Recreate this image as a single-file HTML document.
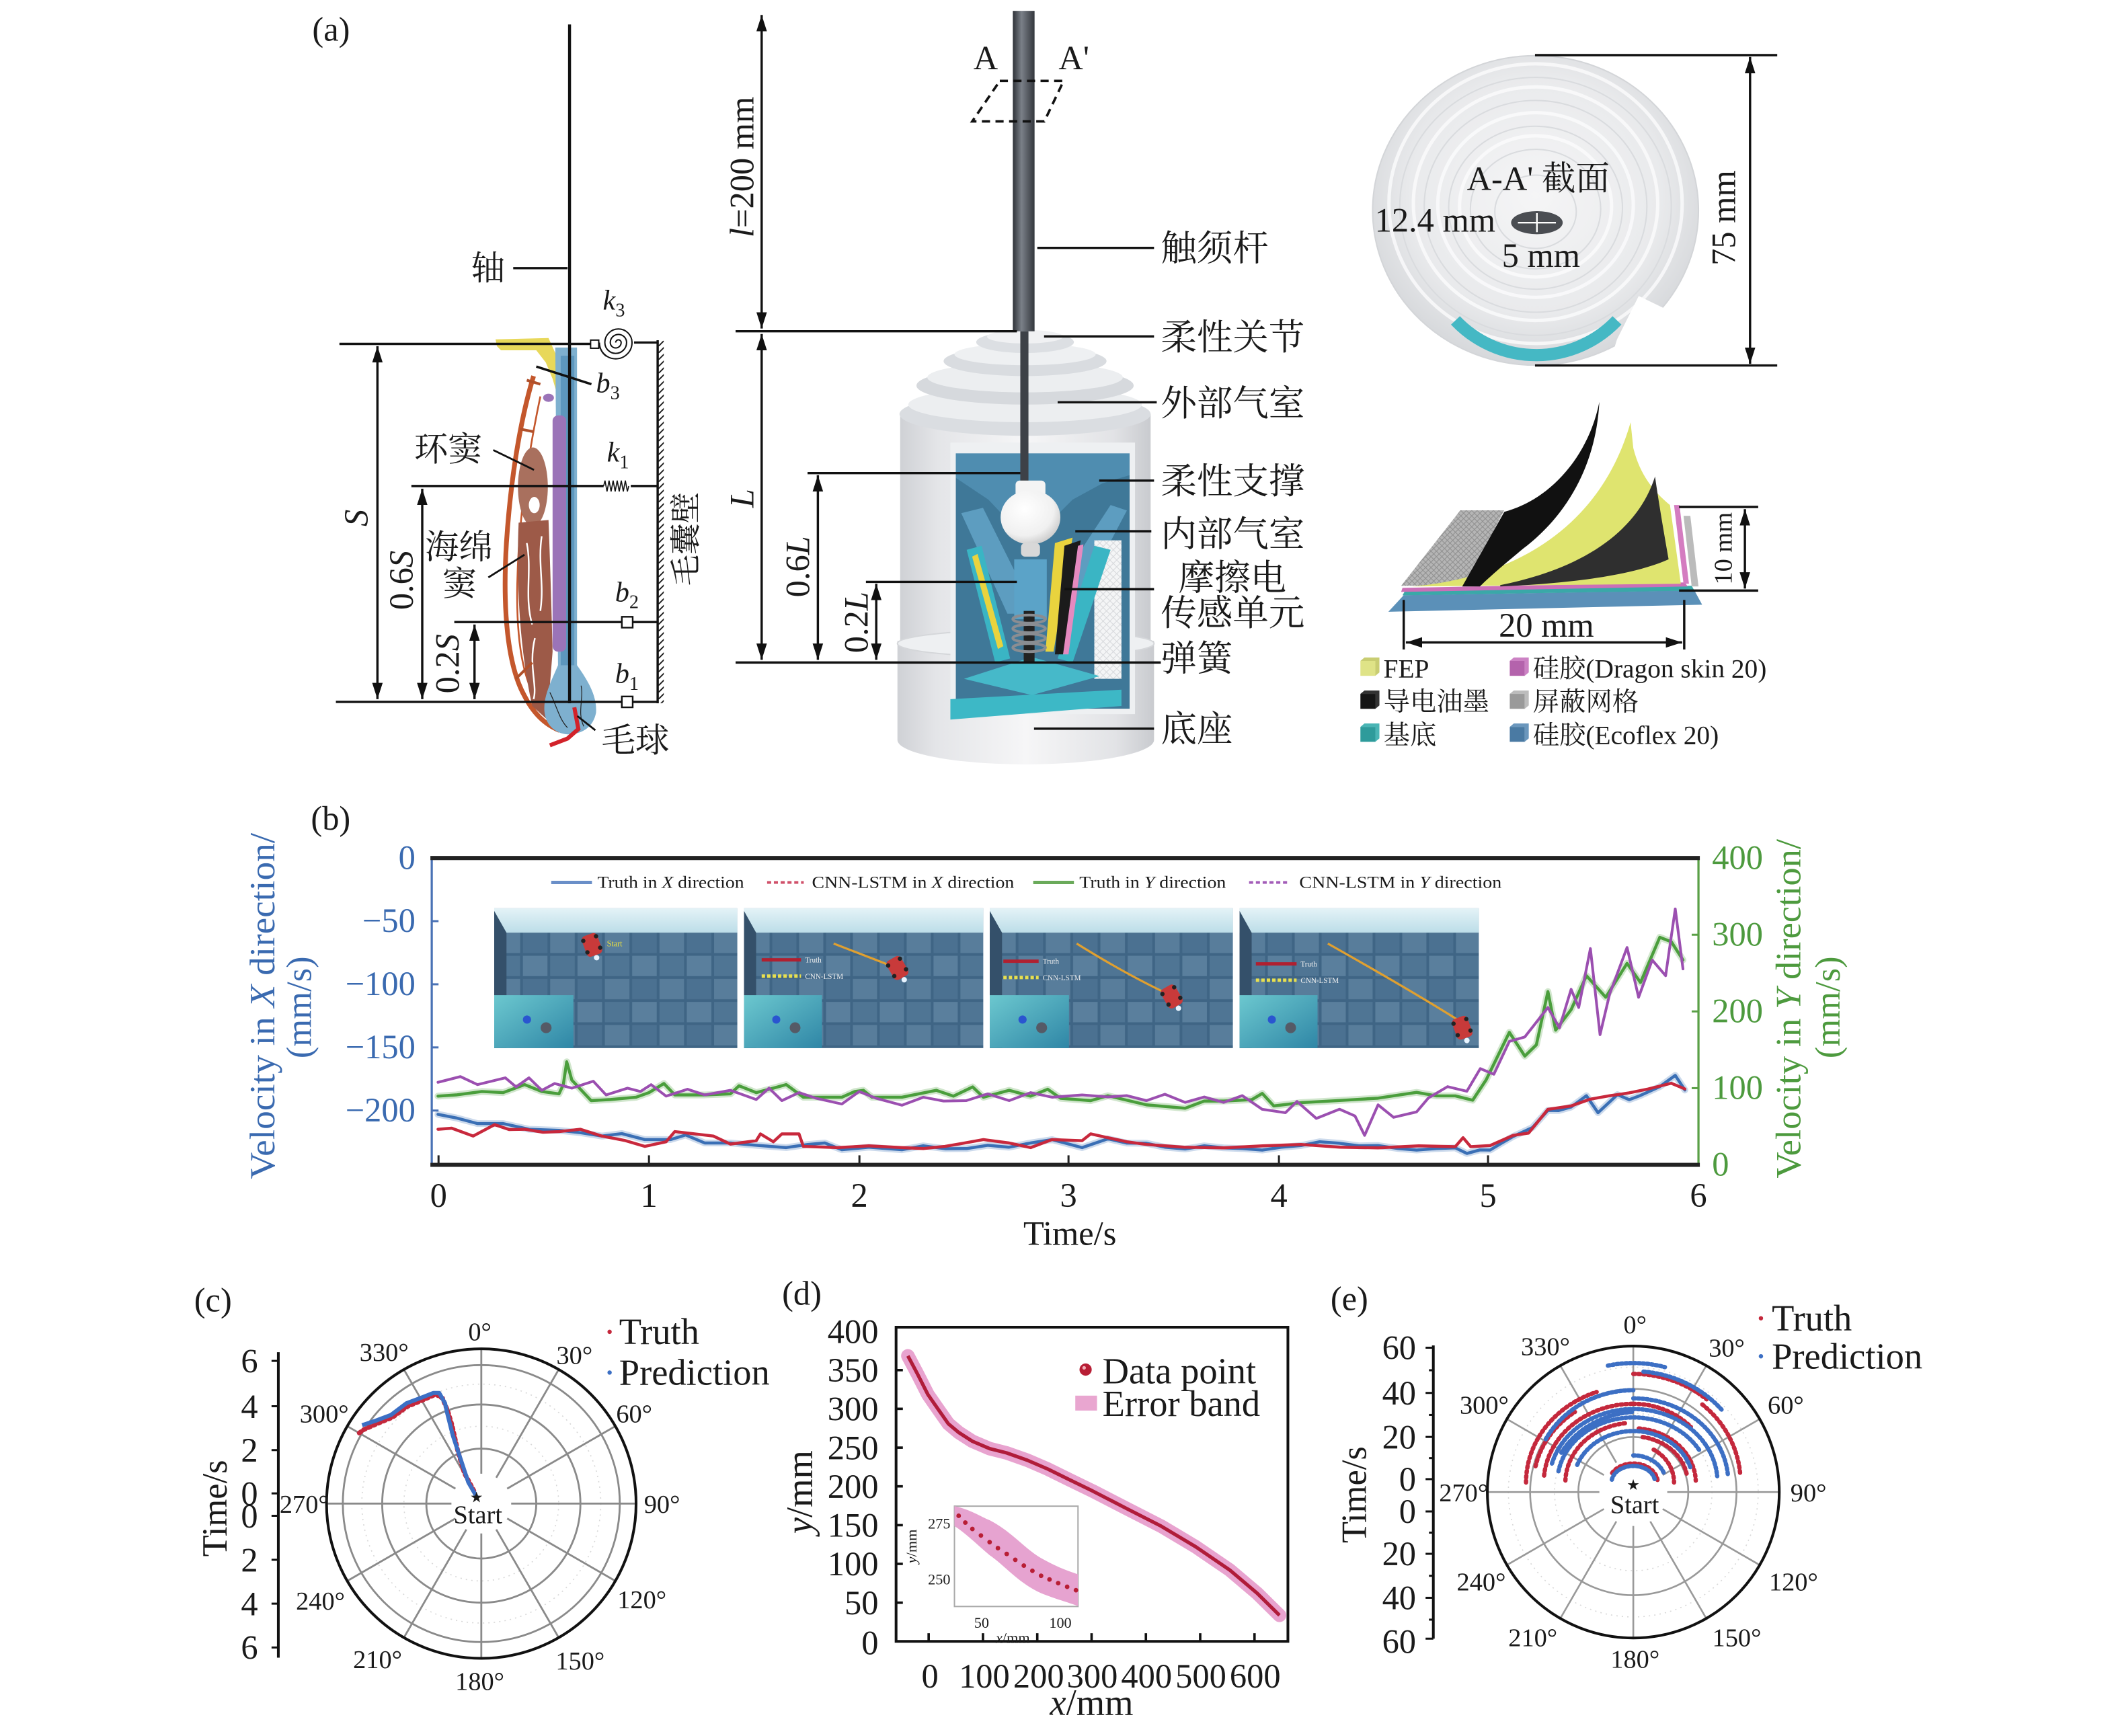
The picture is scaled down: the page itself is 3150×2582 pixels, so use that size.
<!DOCTYPE html>
<html><head><meta charset="utf-8">
<style>
html,body{margin:0;padding:0;background:#fff;width:3150px;height:2582px;overflow:hidden;}
svg{display:block;}
text{font-family:"Liberation Serif","Noto Serif CJK SC",serif;fill:#1a1a1a;}
</style></head><body>
<svg xmlns="http://www.w3.org/2000/svg" width="3150" height="2582" viewBox="0 0 1560 1278.7" preserveAspectRatio="none">
<defs>
<marker id="ah" viewBox="0 0 14 9" refX="14" refY="4.5" markerWidth="12" markerHeight="8" orient="auto-start-reverse" markerUnits="userSpaceOnUse"><path d="M0,0L14,4.5L0,9Z" fill="#111"/></marker>
<linearGradient id="rodG" x1="0" x2="1" y1="0" y2="0"><stop offset="0" stop-color="#2e3238"/><stop offset="0.4" stop-color="#7b8088"/><stop offset="1" stop-color="#33373d"/></linearGradient>
<linearGradient id="cylG" x1="0" x2="1" y1="0" y2="0"><stop offset="0" stop-color="#cfd1d5"/><stop offset="0.15" stop-color="#e4e5e8"/><stop offset="0.5" stop-color="#f6f6f7"/><stop offset="0.85" stop-color="#e2e3e6"/><stop offset="1" stop-color="#c9cbcf"/></linearGradient>
<radialGradient id="diskG" cx="0.5" cy="0.45" r="0.55"><stop offset="0" stop-color="#f5f5f6"/><stop offset="0.7" stop-color="#e9eaec"/><stop offset="1" stop-color="#d6d8db"/></radialGradient>
<radialGradient id="ballG" cx="0.4" cy="0.35" r="0.7"><stop offset="0" stop-color="#ffffff"/><stop offset="0.7" stop-color="#f0f0f0"/><stop offset="1" stop-color="#c8c8c8"/></radialGradient>
<linearGradient id="tealG" x1="0" x2="1" y1="0" y2="1"><stop offset="0" stop-color="#6cc8cf"/><stop offset="1" stop-color="#2f86a6"/></linearGradient>
<linearGradient id="skyG" x1="0" x2="0" y1="0" y2="1"><stop offset="0" stop-color="#e4f3f7"/><stop offset="1" stop-color="#bcdde8"/></linearGradient>
<pattern id="hatch" width="5" height="5" patternUnits="userSpaceOnUse"><path d="M0,5L5,0" stroke="#111" stroke-width="0.9"/></pattern>
<pattern id="mesh" width="4" height="4" patternUnits="userSpaceOnUse"><rect width="4" height="4" fill="#b5b5b5"/><path d="M0,0L4,4M4,0L0,4" stroke="#8e8e8e" stroke-width="0.5"/></pattern>
<pattern id="wmesh" width="5" height="5" patternUnits="userSpaceOnUse"><rect width="5" height="5" fill="#f4f5f6"/><path d="M0,0L5,5M5,0L0,5" stroke="#d6d8db" stroke-width="0.5"/></pattern>
<pattern id="tiles" width="40" height="34" patternUnits="userSpaceOnUse"><rect width="40" height="34" fill="#3f6585"/><rect x="1" y="1" width="18" height="15" fill="#4f7594"/><rect x="21" y="1" width="18" height="15" fill="#5a7f9d"/><rect x="1" y="18" width="18" height="15" fill="#587d9b"/><rect x="21" y="18" width="18" height="15" fill="#4b7191"/></pattern>
<g id="insetBase">
<rect width="178" height="103" fill="url(#tiles)"/>
<rect width="178" height="18" fill="url(#skyG)"/>
<polygon points="0,2 9,18 9,103 0,103" fill="#34506a"/>
<rect x="0" y="64" width="58" height="39" fill="url(#tealG)"/>
<circle cx="24" cy="82" r="3" fill="#2a55d0"/>
<circle cx="38" cy="88" r="4" fill="#555a66"/>
</g>
<g id="robot"><rect x="-6" y="-8" width="12" height="16" rx="3" fill="#c83a3a"/><circle cx="-5" cy="-5" r="1.6" fill="#222"/><circle cx="5" cy="-5" r="1.6" fill="#222"/><circle cx="-5" cy="4" r="1.6" fill="#222"/><circle cx="5" cy="4" r="1.6" fill="#222"/><circle cx="0" cy="10" r="2" fill="#e8f4ff"/></g>
</defs>

<!-- ================= PANEL (a) ================= -->
<text x="230" y="30" font-size="25">(a)</text>

<!-- follicle drawing -->
<path d="M393,277 C386,300 377,340 373,400 C370,450 374,490 386,512 C393,526 402,534 412,538" stroke="#c4572c" stroke-width="3.5" fill="none"/>
<path d="M398,292 C390,330 382,380 381,430 C380,480 387,505 400,525" stroke="#c4572c" stroke-width="1.3" fill="none"/>
<ellipse cx="392.5" cy="358.6" rx="11" ry="29" fill="#a9705e"/>
<ellipse cx="393.5" cy="372" rx="4" ry="6" fill="#fff"/>
<path d="M382,385 C380,430 383,480 392,520 L403,530 L407,480 C406,440 405,410 404,383 Z" fill="#9d5a48"/>
<path d="M388,400 C392,420 386,440 392,460 M394,470 C389,490 396,505 393,515 M399,395 C396,415 401,430 398,450" stroke="#fff" stroke-width="1.2" fill="none"/>
<path d="M366,255 L365,250 L404,249 L409,260 L415,263 L422,262 L423,267 L418,307 L410,307 L412,296 L407,279 L402,267 L395,258 L369,258 Z" fill="#e8d85a"/>
<path d="M409,256 L425,256 L425,490 C432,500 440,512 439,525 C437,535 430,540 420,541 C410,541 402,535 401,524 C400,512 407,500 411,490 Z" fill="#7eb0cf"/>
<rect x="413" y="262" width="10" height="228" fill="#5d97bd"/>
<rect x="407" y="306" width="10" height="174" rx="4" fill="#9b74b8"/>
<ellipse cx="404" cy="293" rx="4" ry="3" fill="#9b74b8"/>
<path d="M423,521 L426,537 L418,544 L405,549" stroke="#d2222a" stroke-width="3" fill="none"/>
<path d="M388,280 L398,283 M383,316 L393,318 M380,500 L392,488" stroke="#b0502a" stroke-width="2" fill="none"/>
<path d="M405,510 C410,520 412,530 418,536 M428,505 C430,515 425,525 430,535" stroke="#222" stroke-width="0.6" fill="none"/>

<!-- left schematic lines -->
<g stroke="#111" stroke-width="1.7" fill="none">
<line x1="419.5" y1="18" x2="419.5" y2="518" stroke-width="2.2"/>
<line x1="378" y1="197.5" x2="418" y2="197.5"/>
<line x1="250" y1="253.3" x2="435" y2="253.3"/>
<line x1="467" y1="252.3" x2="484.4" y2="252.3"/>
<line x1="484.4" y1="250.6" x2="484.4" y2="518"/>
<line x1="303" y1="358" x2="444.6" y2="358"/>
<line x1="464.6" y1="358" x2="484.4" y2="358"/>
<line x1="334.6" y1="458.2" x2="458" y2="458.2"/>
<line x1="466" y1="458.2" x2="484.4" y2="458.2"/>
<line x1="247.4" y1="517" x2="458" y2="517"/>
<line x1="466" y1="517" x2="484.4" y2="517"/>
<line x1="395" y1="270" x2="435.6" y2="283"/>
<line x1="278" y1="255" x2="278" y2="515" marker-start="url(#ah)" marker-end="url(#ah)"/>
<line x1="311" y1="360" x2="311" y2="515" marker-start="url(#ah)" marker-end="url(#ah)"/>
<line x1="349.5" y1="460" x2="349.5" y2="515" marker-start="url(#ah)" marker-end="url(#ah)"/>
<line x1="363.3" y1="331.5" x2="393.3" y2="346.1" stroke-width="1.4"/>
<line x1="359.7" y1="425.3" x2="386.3" y2="408.6" stroke-width="1.4"/>
<line x1="425.2" y1="527.4" x2="438.5" y2="537.9" stroke-width="1.4"/>
<path d="M453.5,252.3 a2,2 0 0 1 4,0 a4,4 0 0 1 -8,0 a6,6 0 0 1 12,0 a8,8 0 0 1 -16,0 a10,10 0 0 1 20,0 a12,12 0 0 1 -24,0 a12,12 0 0 0 5,10" stroke-width="1"/>
<path d="M444.6,358 l1,-4 l1.5,8 l1.5,-8 l1.5,8 l1.5,-8 l1.5,8 l1.5,-8 l1.5,8 l1.5,-8 l1.5,8 l1.5,-8 l1.5,8 l1,-4" stroke-width="0.8"/>
</g>
<rect x="484.4" y="251" width="4.5" height="267" fill="url(#hatch)"/>
<rect x="435" y="250.5" width="6" height="6" fill="#fff" stroke="#111" stroke-width="1"/>
<rect x="458" y="454.3" width="8" height="8" fill="#fff" stroke="#111" stroke-width="1.2"/>
<rect x="458" y="513" width="8" height="8" fill="#fff" stroke="#111" stroke-width="1.2"/>

<text x="347" y="206" font-size="25">轴</text>
<text x="444" y="228" font-size="21" font-style="italic">k<tspan font-size="14" font-style="normal" dy="5">3</tspan></text>
<text x="439" y="289" font-size="21" font-style="italic">b<tspan font-size="14" font-style="normal" dy="5">3</tspan></text>
<text x="447" y="340" font-size="21" font-style="italic">k<tspan font-size="14" font-style="normal" dy="5">1</tspan></text>
<text x="453" y="443" font-size="21" font-style="italic">b<tspan font-size="14" font-style="normal" dy="5">2</tspan></text>
<text x="453" y="503" font-size="21" font-style="italic">b<tspan font-size="14" font-style="normal" dy="5">1</tspan></text>
<text x="305" y="339.5" font-size="25">环窦</text>
<text x="313" y="411.5" font-size="25">海绵</text>
<text x="326" y="438.5" font-size="25">窦</text>
<text x="443" y="554" font-size="25">毛球</text>
<text transform="translate(513,397) rotate(-90)" text-anchor="middle" font-size="23">毛囊壁</text>
<text transform="translate(271,381.5) rotate(-90)" text-anchor="middle" font-size="25" font-style="italic">S</text>
<text transform="translate(304,427.4) rotate(-90)" text-anchor="middle" font-size="25">0.6<tspan font-style="italic">S</tspan></text>
<text transform="translate(338,488.9) rotate(-90)" text-anchor="middle" font-size="25">0.2<tspan font-style="italic">S</tspan></text>

<!-- device -->
<path d="M661,472 L850,472 L850,545 A94.5,18 0 0 1 661,545 Z" fill="url(#cylG)"/>
<rect x="663" y="305" width="184.5" height="170" fill="url(#cylG)"/>
<ellipse cx="755.5" cy="474" rx="94.5" ry="10" fill="#eef0f2" stroke="#d5d7da" stroke-width="1"/>
<ellipse cx="755" cy="305" rx="92.5" ry="16" fill="#dadde1"/>
<ellipse cx="755" cy="298" rx="86" ry="13" fill="#eceef0"/>
<ellipse cx="755" cy="284" rx="80" ry="14" fill="#d6d9dd"/>
<ellipse cx="755" cy="278" rx="72" ry="11" fill="#eceef0"/>
<ellipse cx="755" cy="266" rx="60" ry="11" fill="#d9dce0"/>
<ellipse cx="755" cy="261" rx="52" ry="8" fill="#eef0f2"/>
<ellipse cx="755" cy="252" rx="36" ry="8" fill="#dcdfe3"/>
<ellipse cx="755" cy="248" rx="28" ry="5" fill="#f0f1f3"/>
<!-- cutaway -->
<rect x="700" y="326" width="136" height="200" fill="#eef0f2"/>
<rect x="704" y="334" width="128" height="188" fill="#3f7898"/>
<polygon points="704,334 832,334 832,350 812,356 790,368 772,386 745,386 728,368 704,352" fill="#4f8db0"/>
<polygon points="708,378 724,374 752,430 752,452 742,452" fill="#5d9dc0"/>
<polygon points="818,372 830,376 790,452 778,452 780,430" fill="#5d9dc0"/>
<rect x="806" y="398" width="20" height="102" fill="url(#wmesh)"/>
<rect x="747" y="412" width="24" height="44" fill="#5ba3c8"/>
<polygon points="712,405 723,402 744,485 733,488" fill="#3ab5c4"/>
<polygon points="806,402 818,405 790,488 779,485" fill="#3ab5c4"/>
<polygon points="716,410 720,408 739,476 735,478" fill="#e9d33e"/>
<polygon points="777,400 790,396 776,480 770,480" fill="#e9d33e"/>
<polygon points="784,402 796,398 783,482 777,482" fill="#1b1b1b"/>
<polygon points="794,402 798,401 787,482 783,482" fill="#e58ac0"/>
<polygon points="710,500 760,484 810,498 760,512" fill="#46b9c9"/>
<polygon points="700,515 826,508 826,520 700,530" fill="#3db8c6"/>
<rect x="754" y="450" width="8" height="38" fill="#222"/>
<g stroke="#8a8d92" stroke-width="2" fill="none"><ellipse cx="758" cy="456" rx="12" ry="3"/><ellipse cx="758" cy="463" rx="12" ry="3"/><ellipse cx="758" cy="470" rx="12" ry="3"/><ellipse cx="758" cy="477" rx="12" ry="3"/></g>
<rect x="751.5" y="244" width="6" height="112" fill="#3d4147"/>
<rect x="748" y="354" width="22" height="12" rx="3" fill="#f4f4f4"/>
<ellipse cx="759" cy="381" rx="22" ry="20" fill="url(#ballG)"/>
<rect x="752" y="400" width="14" height="10" rx="3" fill="#d8d8d8"/>
<rect x="746" y="8" width="16" height="236" fill="url(#rodG)"/>
<polygon points="736.4,59.6 783.4,59.6 769.2,89.4 716.1,89.4" fill="none" stroke="#111" stroke-width="1.8" stroke-dasharray="6 4"/>

<g stroke="#111" stroke-width="1.7" fill="none">
<line x1="541.8" y1="244" x2="749" y2="244"/>
<line x1="541.8" y1="488" x2="855" y2="488"/>
<line x1="594.8" y1="348.5" x2="751.5" y2="348.5"/>
<line x1="637.8" y1="428.6" x2="749" y2="428.6"/>
<line x1="561" y1="11" x2="561" y2="242" marker-start="url(#ah)" marker-end="url(#ah)"/>
<line x1="561" y1="246" x2="561" y2="486" marker-start="url(#ah)" marker-end="url(#ah)"/>
<line x1="602.4" y1="350" x2="602.4" y2="486" marker-start="url(#ah)" marker-end="url(#ah)"/>
<line x1="645.4" y1="430" x2="645.4" y2="486" marker-start="url(#ah)" marker-end="url(#ah)"/>
<line x1="764" y1="182.6" x2="850" y2="182.6"/>
<line x1="769" y1="247.8" x2="850" y2="247.8"/>
<line x1="779" y1="296.3" x2="852" y2="296.3"/>
<line x1="809.6" y1="354" x2="850" y2="354"/>
<line x1="792" y1="391.3" x2="848" y2="391.3"/>
<line x1="784" y1="434" x2="850" y2="434"/>
<line x1="761.6" y1="536.7" x2="850" y2="536.7"/>
</g>
<text x="726" y="51" text-anchor="middle" font-size="25">A</text>
<text x="791" y="51" text-anchor="middle" font-size="25">A'</text>
<text transform="translate(555,123) rotate(-90)" text-anchor="middle" font-size="25"><tspan font-style="italic">l</tspan>=200 mm</text>
<text transform="translate(555,367) rotate(-90)" text-anchor="middle" font-size="25" font-style="italic">L</text>
<text transform="translate(596,417.4) rotate(-90)" text-anchor="middle" font-size="25">0.6<tspan font-style="italic">L</tspan></text>
<text transform="translate(639,458.4) rotate(-90)" text-anchor="middle" font-size="25">0.2<tspan font-style="italic">L</tspan></text>
<g font-size="26.5">
<text x="855" y="192">触须杆</text>
<text x="855" y="257.5">柔性关节</text>
<text x="855" y="306">外部气室</text>
<text x="855" y="363.5">柔性支撑</text>
<text x="855" y="402.5">内部气室</text>
<text x="868" y="434.5">摩擦电</text>
<text x="855" y="460.5">传感单元</text>
<text x="855" y="494">弹簧</text>
<text x="855" y="546">底座</text>
</g>

<!-- disk -->
<ellipse cx="1131" cy="155" rx="120" ry="114" fill="url(#diskG)" stroke="#d3d5d8" stroke-width="1"/>
<g fill="none" stroke="#d9dbde" stroke-width="1">
<ellipse cx="1131" cy="152" rx="100" ry="95"/><ellipse cx="1131" cy="152" rx="82" ry="78"/><ellipse cx="1131" cy="153" rx="64" ry="60"/><ellipse cx="1131" cy="154" rx="48" ry="44"/><ellipse cx="1131" cy="156" rx="30" ry="27"/>
</g>
<g fill="none" stroke="#fcfcfd" stroke-width="2.5" opacity="0.8">
<ellipse cx="1131" cy="150" rx="108" ry="103"/><ellipse cx="1131" cy="150" rx="90" ry="86"/><ellipse cx="1131" cy="151" rx="72" ry="68"/><ellipse cx="1131" cy="152" rx="56" ry="52"/>
</g>
<polygon points="1191,250 1207,218 1240,234 1262,240 1262,285 1180,285" fill="#fff"/>
<path d="M1072,236 A82,82 0 0 0 1191,236" fill="none" stroke="#45b8c4" stroke-width="9"/>
<ellipse cx="1132" cy="164" rx="19" ry="8.5" fill="#4a4d52"/>
<g stroke="#fff" stroke-width="1.2"><line x1="1118" y1="164" x2="1146" y2="164"/><line x1="1132" y1="157" x2="1132" y2="171"/></g>
<text x="1133" y="140" text-anchor="middle" font-size="25">A-A' 截面</text>
<text x="1057" y="170.5" text-anchor="middle" font-size="25">12.4 mm</text>
<text x="1135" y="196.5" text-anchor="middle" font-size="25">5 mm</text>
<g stroke="#111" stroke-width="1.7" fill="none">
<line x1="1130.6" y1="40.6" x2="1309" y2="40.6"/>
<line x1="1130.6" y1="269.2" x2="1309" y2="269.2"/>
<line x1="1289" y1="42" x2="1289" y2="268" marker-start="url(#ah)" marker-end="url(#ah)"/>
</g>
<text transform="translate(1278,160.5) rotate(-90)" text-anchor="middle" font-size="25">75 mm</text>

<!-- layer stack -->
<polygon points="1022.6,450.6 1253.7,445.4 1248,434.9 1033.9,438.4" fill="#5b90b8"/>
<polygon points="1033,438.5 1248,435 1246,431.5 1035,435" fill="#3aa8a8"/>
<polygon points="1032,436 1243,432 1241,429 1033,433" fill="#cc6fb7"/>
<polygon points="1240,380 1245,380 1251,432 1246,432" fill="#bbb"/>
<polygon points="1233,372 1237,372 1244,430 1240,430" fill="#d47cc0"/>
<polygon points="1032,431.5 1075.6,375.9 1107.8,375.9 1079.4,431.5" fill="url(#mesh)"/>
<path d="M1040,432 C1120,425 1180,385 1201,311 L1203,330 C1208,350 1218,362 1230,372 L1238,430 Z" fill="#dfe46f"/>
<path d="M1105,431 C1160,420 1205,395 1219,351 C1222,372 1226,395 1229,412 C1200,425 1150,430 1105,432 Z" fill="#2f2f2f"/>
<path d="M1077,432 L1108,377 C1142,368 1170,336 1178,296 C1176,335 1160,375 1122,404 C1110,414 1098,424 1090,432 Z" fill="#111"/>
<g stroke="#111" stroke-width="1.7" fill="none">
<line x1="1236.7" y1="373.4" x2="1295" y2="373.4"/>
<line x1="1236.7" y1="435" x2="1295" y2="435"/>
<line x1="1285.2" y1="375" x2="1285.2" y2="433.5" marker-start="url(#ah)" marker-end="url(#ah)"/>
<line x1="1033.9" y1="441.9" x2="1033.9" y2="478.4"/>
<line x1="1240.5" y1="441.9" x2="1240.5" y2="478.4"/>
<line x1="1035.5" y1="473.2" x2="1239" y2="473.2" marker-start="url(#ah)" marker-end="url(#ah)"/>
</g>
<text transform="translate(1275.5,404) rotate(-90)" text-anchor="middle" font-size="19">10 mm</text>
<text x="1139" y="469" text-anchor="middle" font-size="25">20 mm</text>
<!-- legend -->
<g font-size="19.5">
<rect x="1002" y="486.8" width="11" height="11" fill="#dfe387"/><path d="M1002,486.8 l3,-2.5 h11 l-3,2.5z M1013,486.8 l3,-2.5 v11 l-3,2.5z" fill="#c9cd72"/>
<text x="1019" y="499">FEP</text>
<rect x="1002" y="511.1" width="11" height="11" fill="#151515"/><path d="M1002,511.1 l3,-2.5 h11 l-3,2.5z M1013,511.1 l3,-2.5 v11 l-3,2.5z" fill="#333"/>
<text x="1019" y="523.5">导电油墨</text>
<rect x="1002" y="535.4" width="11" height="11" fill="#2e9b9b"/><path d="M1002,535.4 l3,-2.5 h11 l-3,2.5z M1013,535.4 l3,-2.5 v11 l-3,2.5z" fill="#4ab5b5"/>
<text x="1019" y="548">基底</text>
<rect x="1112" y="486.8" width="11" height="11" fill="#b463ac"/><path d="M1112,486.8 l3,-2.5 h11 l-3,2.5z M1123,486.8 l3,-2.5 v11 l-3,2.5z" fill="#cc82c4"/>
<text x="1129" y="499">硅胶(Dragon skin 20)</text>
<rect x="1112" y="511.1" width="11" height="11" fill="#9a9a9a"/><path d="M1112,511.1 l3,-2.5 h11 l-3,2.5z M1123,511.1 l3,-2.5 v11 l-3,2.5z" fill="#bcbcbc"/>
<text x="1129" y="523.5">屏蔽网格</text>
<rect x="1112" y="535.4" width="11" height="11" fill="#4a7aa3"/><path d="M1112,535.4 l3,-2.5 h11 l-3,2.5z M1123,535.4 l3,-2.5 v11 l-3,2.5z" fill="#6b97bd"/>
<text x="1129" y="548">硅胶(Ecoflex 20)</text>
</g>

<!-- ================= PANEL (b) ================= -->
<text x="229" y="611" font-size="25">(b)</text>
<!-- insets -->
<use href="#insetBase" transform="translate(364,669) scale(1.006,1)"/>
<use href="#insetBase" transform="translate(548,669) scale(0.99,1)"/>
<use href="#insetBase" transform="translate(729,669) scale(1.006,1)"/>
<use href="#insetBase" transform="translate(913,669) scale(0.99,1)"/>
<use href="#robot" transform="translate(436,696) rotate(-20)"/>
<text x="447" y="697" font-size="6" fill="#e8e040" style="fill:#e8e040">Start</text>
<path d="M614,695 L658,712" stroke="#e0a030" stroke-width="1.6" fill="none"/>
<use href="#robot" transform="translate(661,713) rotate(-30)"/>
<path d="M793,695 Q830,718 860,732" stroke="#e0a030" stroke-width="1.6" fill="none"/>
<use href="#robot" transform="translate(863,734) rotate(-30)"/>
<path d="M978,695 Q1040,730 1075,752" stroke="#e0a030" stroke-width="1.6" fill="none"/>
<use href="#robot" transform="translate(1077,757) rotate(-20)"/>
<g font-size="5.5">
<line x1="561" y1="707" x2="590" y2="707" stroke="#b02030" stroke-width="2.5"/><text x="593" y="709" style="fill:#f0f0f0">Truth</text>
<line x1="561" y1="719" x2="590" y2="719" stroke="#e8e050" stroke-width="2.5" stroke-dasharray="2.5 1.5"/><text x="593" y="721" style="fill:#f0f0f0">CNN-LSTM</text>
<line x1="739" y1="708" x2="765" y2="708" stroke="#b02030" stroke-width="2.5"/><text x="768" y="710" style="fill:#f0f0f0">Truth</text>
<line x1="739" y1="720" x2="765" y2="720" stroke="#e8e050" stroke-width="2.5" stroke-dasharray="2.5 1.5"/><text x="768" y="722" style="fill:#f0f0f0">CNN-LSTM</text>
<line x1="925" y1="710" x2="955" y2="710" stroke="#b02030" stroke-width="2.5"/><text x="958" y="712" style="fill:#f0f0f0">Truth</text>
<line x1="925" y1="722" x2="955" y2="722" stroke="#e8e050" stroke-width="2.5" stroke-dasharray="2.5 1.5"/><text x="958" y="724" style="fill:#f0f0f0">CNN-LSTM</text>
</g>

<!-- axes -->
<line x1="318" y1="632" x2="318" y2="858" stroke="#4a72b5" stroke-width="1.6"/>
<line x1="1251" y1="632" x2="1251" y2="858" stroke="#5aa046" stroke-width="1.6"/>
<line x1="317" y1="632" x2="1252" y2="632" stroke="#222" stroke-width="3"/>
<line x1="317" y1="858" x2="1252" y2="858" stroke="#222" stroke-width="3"/>
<g stroke="#4a72b5" stroke-width="1.5"><line x1="318" y1="678.5" x2="323" y2="678.5"/><line x1="318" y1="725" x2="323" y2="725"/><line x1="318" y1="771.5" x2="323" y2="771.5"/><line x1="318" y1="818" x2="323" y2="818"/></g>
<g stroke="#5aa046" stroke-width="1.5"><line x1="1246" y1="688.5" x2="1251" y2="688.5"/><line x1="1246" y1="745" x2="1251" y2="745"/><line x1="1246" y1="801.5" x2="1251" y2="801.5"/></g>
<g stroke="#222" stroke-width="1.5"><line x1="323" y1="858" x2="323" y2="851"/><line x1="478" y1="858" x2="478" y2="851"/><line x1="633" y1="858" x2="633" y2="851"/><line x1="787" y1="858" x2="787" y2="851"/><line x1="942" y1="858" x2="942" y2="851"/><line x1="1096" y1="858" x2="1096" y2="851"/></g>
<g font-size="25" text-anchor="end" style="fill:#3a6ab0">
<text x="306" y="640" style="fill:#3a6ab0">0</text>
<text x="306" y="686.5" style="fill:#3a6ab0">−50</text>
<text x="306" y="733" style="fill:#3a6ab0">−100</text>
<text x="306" y="779.5" style="fill:#3a6ab0">−150</text>
<text x="306" y="826" style="fill:#3a6ab0">−200</text>
</g>
<g font-size="25">
<text x="1261" y="640" style="fill:#4d9a3e">400</text>
<text x="1261" y="696.5" style="fill:#4d9a3e">300</text>
<text x="1261" y="753" style="fill:#4d9a3e">200</text>
<text x="1261" y="809.5" style="fill:#4d9a3e">100</text>
<text x="1261" y="866" style="fill:#4d9a3e">0</text>
</g>
<g font-size="25" text-anchor="middle">
<text x="323" y="889">0</text><text x="478" y="889">1</text><text x="633" y="889">2</text><text x="787" y="889">3</text><text x="942" y="889">4</text><text x="1096" y="889">5</text><text x="1251" y="889">6</text>
<text x="788" y="917">Time/s</text>
</g>
<text transform="translate(202,741) rotate(-90)" text-anchor="middle" font-size="26" textLength="255" lengthAdjust="spacingAndGlyphs" style="fill:#3a6ab0">Velocity in <tspan font-style="italic">X</tspan> direction/</text>
<text transform="translate(229,742) rotate(-90)" text-anchor="middle" font-size="26" style="fill:#3a6ab0">(mm/s)</text>
<text transform="translate(1326,743) rotate(-90)" text-anchor="middle" font-size="26" textLength="250" lengthAdjust="spacingAndGlyphs" style="fill:#4d9a3e">Velocity in <tspan font-style="italic">Y</tspan> direction/</text>
<text transform="translate(1355,742) rotate(-90)" text-anchor="middle" font-size="26" style="fill:#4d9a3e">(mm/s)</text>
<!-- legend -->
<g font-size="12.5">
<line x1="406" y1="650" x2="436" y2="650" stroke="#6a8fc8" stroke-width="2.5"/>
<text x="440" y="654" textLength="108" lengthAdjust="spacingAndGlyphs">Truth in <tspan font-style="italic">X</tspan> direction</text>
<line x1="565" y1="650" x2="592" y2="650" stroke="#d0506a" stroke-width="2" stroke-dasharray="3 2"/>
<text x="598" y="654" textLength="149" lengthAdjust="spacingAndGlyphs">CNN-LSTM in <tspan font-style="italic">X</tspan> direction</text>
<line x1="761" y1="650" x2="791" y2="650" stroke="#6aaa5a" stroke-width="2.5"/>
<text x="795" y="654" textLength="108" lengthAdjust="spacingAndGlyphs">Truth in <tspan font-style="italic">Y</tspan> direction</text>
<line x1="920" y1="650" x2="950" y2="650" stroke="#a35cb8" stroke-width="2" stroke-dasharray="3 2"/>
<text x="957" y="654" textLength="149" lengthAdjust="spacingAndGlyphs">CNN-LSTM in <tspan font-style="italic">Y</tspan> direction</text>
</g>
<!-- series -->
<g fill="none" stroke-linejoin="round" stroke-linecap="round">
<g stroke-width="5" opacity="0.25">
<polyline stroke="#3a6fb5" points="322.6,820.8 335.9,823.4 351.7,827.6 370.6,827.6 389.6,831.8 411.7,832.6 427.5,834.3 443.3,836.8 458,835 474.9,839.4 493.8,839.4 505,836 519.1,841.9 538,841.9 557,843.6 579.1,845.3 595,843 607.5,841.9 620.1,846.9 640,845 664.3,846.9 680,844 696.2,846.1 712,846 727.5,843.6 743,845 759.1,841.9 774.9,839.4 797,845.3 816,838.8 830,842 844.4,842.1 858,845 872.9,846.3 887,844 901.3,845.5 915,846 929.7,847.1 944,845 958.2,843.8 972,841 986.6,842.1 1001,844 1015,843.8 1030,846 1043.4,847.1 1058,846 1071.9,845.5 1080.4,849.6 1090,847 1097.5,847.1 1106,842 1114.5,837.1 1128.7,830.5 1140.1,817.9 1148,818 1157.2,815.4 1168.5,807.1 1177,819.6 1191.3,806.3 1200,810 1208,807 1222.5,800.4 1233.9,792.1 1241,802.9"/>
<polyline stroke="#4a9e3c" points="322.6,807.4 335.9,806.5 354.9,804 370.6,804.8 386.4,798.9 399.1,804 411.7,805.7 414.9,798.9 417.4,782.1 421.2,795.6 427.5,802.3 435.4,810.7 449.6,809.9 468.5,808.2 478,804.8 489,798.1 497,806.5 519.1,806.5 538,805.7 544.3,799.8 557,804.8 569.6,801.5 579.1,798.9 591.7,808.2 620.1,808.2 629.6,804 635.9,803.1 642.2,808.2 664.3,808.2 689.6,803.1 702.2,807.4 716.4,800.6 724.3,808.2 743.3,803.1 759.1,807.4 771.7,802.3 781.2,809 803.3,810.7 816,807.1 844.4,813.8 872.9,816.3 887,811 901.3,811 922,810 929.7,805.4 938.2,814.6 958.2,812.2 986.6,810.6 1015,808.9 1043.4,804.6 1057.9,807.2 1071.9,807.2 1084.7,810.4 1094.6,795.4 1111.7,760.4 1123.1,777.9 1131.6,769.6 1140.1,730.4 1145.8,758.8 1157.2,743.7 1168.5,718.7 1182.7,734.6 1198.4,709.6 1208.3,723.7 1222.5,690.4 1231,693.7 1239.6,707.1"/>
</g>
<polyline stroke="#3a6fb5" stroke-width="2.2" points="322.6,820.8 335.9,823.4 351.7,827.6 370.6,827.6 389.6,831.8 411.7,832.6 427.5,834.3 443.3,836.8 458,835 474.9,839.4 493.8,839.4 505,836 519.1,841.9 538,841.9 557,843.6 579.1,845.3 595,843 607.5,841.9 620.1,846.9 640,845 664.3,846.9 680,844 696.2,846.1 712,846 727.5,843.6 743,845 759.1,841.9 774.9,839.4 797,845.3 816,838.8 830,842 844.4,842.1 858,845 872.9,846.3 887,844 901.3,845.5 915,846 929.7,847.1 944,845 958.2,843.8 972,841 986.6,842.1 1001,844 1015,843.8 1030,846 1043.4,847.1 1058,846 1071.9,845.5 1080.4,849.6 1090,847 1097.5,847.1 1106,842 1114.5,837.1 1128.7,830.5 1140.1,817.9 1148,818 1157.2,815.4 1168.5,807.1 1177,819.6 1191.3,806.3 1200,810 1208,807 1222.5,800.4 1233.9,792.1 1241,802.9"/>
<polyline stroke="#c8283c" stroke-width="2.2" points="322.6,831.8 332.7,831 348.5,836.8 364.3,828.4 375,832 386.4,831.8 400,834 411.7,833.5 427.5,831.8 443.3,836.8 460,840 474.9,844.4 490.6,841 497,833.5 510,835 525.4,836.8 538,842.7 557,840.2 560.1,835.2 569.6,841 575.9,835.2 588.5,835.2 591.7,844.4 617,845.3 640,844 664.3,845.3 680,846 696,844.4 710,842 724.3,839.4 743.3,841.9 759.1,845.3 774.9,839.4 797,840.2 803.3,835.2 816,838 830,841 844.4,843 872,845 901.3,845.5 930,844 958.2,843 987,845 1015,845.5 1045,844 1071.9,844.6 1077.6,838 1083.2,844.6 1097.5,843.8 1114.5,836.3 1125.9,834.6 1140.1,817.1 1157.2,814.6 1171.4,809.6 1185.6,807.1 1200,805 1214,802.1 1231,797.9 1241,802.1"/>
<polyline stroke="#4a9e3c" stroke-width="2.2" points="322.6,807.4 335.9,806.5 354.9,804 370.6,804.8 386.4,798.9 399.1,804 411.7,805.7 414.9,798.9 417.4,782.1 421.2,795.6 427.5,802.3 435.4,810.7 449.6,809.9 468.5,808.2 478,804.8 489,798.1 497,806.5 519.1,806.5 538,805.7 544.3,799.8 557,804.8 569.6,801.5 579.1,798.9 591.7,808.2 620.1,808.2 629.6,804 635.9,803.1 642.2,808.2 664.3,808.2 689.6,803.1 702.2,807.4 716.4,800.6 724.3,808.2 743.3,803.1 759.1,807.4 771.7,802.3 781.2,809 803.3,810.7 816,807.1 844.4,813.8 872.9,816.3 887,811 901.3,811 922,810 929.7,805.4 938.2,814.6 958.2,812.2 986.6,810.6 1015,808.9 1043.4,804.6 1057.9,807.2 1071.9,807.2 1084.7,810.4 1094.6,795.4 1111.7,760.4 1123.1,777.9 1131.6,769.6 1140.1,730.4 1145.8,758.8 1157.2,743.7 1168.5,718.7 1182.7,734.6 1198.4,709.6 1208.3,723.7 1222.5,690.4 1231,693.7 1239.6,707.1"/>
<polyline stroke="#9b4fb0" stroke-width="2" points="322.6,797.2 339.1,793 351.7,798.9 372.2,793.9 380.1,800.6 389.6,793.9 399.1,803.1 408.5,798.1 421.2,801.5 437,796.4 446.4,806.5 462.2,801.5 471.7,804 479.6,798.9 490.6,807.4 506.4,802.3 519.1,806.5 538,803.1 557,809.9 566.4,801.5 575.9,810.7 588.5,804.8 601.2,809 620.1,813.2 632.8,804 645.4,809 664.3,814.1 680.1,808.2 695,811 711.7,810.7 727.5,805.7 743.3,810.7 759.1,804.8 774.9,808.2 797,806.5 816,808 830,807 844.4,810.7 858,806 872.9,812 887,808 901.3,812 915,807 929.7,817.1 946.8,819.6 955.3,811.3 969.5,823.8 986.6,817 998,822 1005.1,836.3 1015,813.8 1026.4,823 1043.4,819 1052,808.8 1066.2,800.4 1080.4,803.8 1090.3,787.1 1100.3,791.3 1111.7,767.1 1123.1,763.8 1140.1,742.1 1148.6,757.1 1157.2,728.7 1162.8,742.1 1171.4,698.7 1178.5,762.1 1185.6,732.1 1198.4,697.9 1206.9,734.6 1216.9,707.1 1226.8,718.7 1233.9,669.5 1239.6,713.7"/>
</g>

<!-- ================= PANEL (c) ================= -->
<text x="143" y="966" font-size="25">(c)</text>
<g transform="translate(354.5,1107.5)" fill="none">
<circle r="57" stroke="#d8d8d8" stroke-width="0.8" stroke-dasharray="1 3"/>
<circle r="88" stroke="#d8d8d8" stroke-width="0.8" stroke-dasharray="1 3"/>
<g stroke="#8a8a8a" stroke-width="1.4">
<circle r="40.5"/><circle r="73"/><circle r="102"/>
<line y1="-22" y2="-114"/><line y1="-22" y2="-114" transform="rotate(30)"/><line y1="-22" y2="-114" transform="rotate(60)"/><line y1="-22" y2="-114" transform="rotate(90)"/><line y1="-22" y2="-114" transform="rotate(120)"/><line y1="-22" y2="-114" transform="rotate(150)"/><line y1="-22" y2="-114" transform="rotate(180)"/><line y1="-22" y2="-114" transform="rotate(210)"/><line y1="-22" y2="-114" transform="rotate(240)"/><line y1="-22" y2="-114" transform="rotate(270)"/><line y1="-22" y2="-114" transform="rotate(300)"/><line y1="-22" y2="-114" transform="rotate(330)"/>
</g>
<circle r="114" stroke="#111" stroke-width="2"/>
</g>
<polyline fill="none" stroke="#c4283c" stroke-width="3.5" stroke-dasharray="1.5 2.5" stroke-linecap="round" points="349,1098 342,1085 337,1068 333,1050 330,1040 326,1030 321,1027 312,1031 300,1036 289,1044 277,1049 268,1053 264,1056"/>
<polyline fill="none" stroke="#3c6fc4" stroke-width="3" stroke-linejoin="round" points="351.1,1102.5 344.9,1091.8 339.2,1074.5 333.5,1057.3 329.2,1040.1 327.8,1033.6 323.5,1026 319.3,1026 310.8,1029.3 299.4,1033.6 288,1042.2 276.6,1046.5 266.7,1049.8"/>
<text x="351" y="1106" text-anchor="middle" font-size="9">★</text>
<text x="352" y="1122" text-anchor="middle" font-size="19">Start</text>
<g font-size="19" text-anchor="middle">
<text x="353.4" y="987.3">0°</text><text x="423.1" y="1004.6">30°</text><text x="467.1" y="1047.6">60°</text><text x="487.6" y="1114.4">90°</text><text x="472.8" y="1184.5">120°</text><text x="427.3" y="1229.7">150°</text><text x="353.4" y="1244.8">180°</text><text x="278.1" y="1228.6">210°</text><text x="236" y="1185.5">240°</text><text x="224" y="1114.4">270°</text><text x="238.8" y="1047.6">300°</text><text x="282.9" y="1002.4">330°</text>
</g>
<line x1="205" y1="996" x2="205" y2="1221" stroke="#111" stroke-width="2"/>
<g stroke="#111" stroke-width="1.5"><line x1="200" y1="1002.4" x2="205" y2="1002.4"/><line x1="200" y1="1035.8" x2="205" y2="1035.8"/><line x1="200" y1="1068.1" x2="205" y2="1068.1"/><line x1="200" y1="1100" x2="205" y2="1100"/><line x1="200" y1="1116.5" x2="205" y2="1116.5"/><line x1="200" y1="1148.9" x2="205" y2="1148.9"/><line x1="200" y1="1181.2" x2="205" y2="1181.2"/><line x1="200" y1="1213.5" x2="205" y2="1213.5"/></g>
<g font-size="25" text-anchor="end">
<text x="190" y="1011">6</text><text x="190" y="1044.4">4</text><text x="190" y="1076.7">2</text><text x="190" y="1108.6">0</text><text x="190" y="1125.1">0</text><text x="190" y="1157.5">2</text><text x="190" y="1189.8">4</text><text x="190" y="1222.1">6</text>
</g>
<text transform="translate(167,1111) rotate(-90)" text-anchor="middle" font-size="26">Time/s</text>
<circle cx="449" cy="981" r="1.6" fill="#c4283c"/>
<text x="456" y="990" font-size="27">Truth</text>
<circle cx="449" cy="1011" r="1.6" fill="#3c6fc4"/>
<text x="456" y="1020" font-size="27">Prediction</text>

<!-- ================= PANEL (d) ================= -->
<text x="576" y="961" font-size="25">(d)</text>
<rect x="660" y="977.6" width="288.6" height="231.4" fill="none" stroke="#111" stroke-width="2"/>
<g stroke="#111" stroke-width="1.8">
<line x1="684" y1="1209" x2="684" y2="1203"/><line x1="724" y1="1209" x2="724" y2="1203"/><line x1="764" y1="1209" x2="764" y2="1203"/><line x1="804" y1="1209" x2="804" y2="1203"/><line x1="844" y1="1209" x2="844" y2="1203"/><line x1="884" y1="1209" x2="884" y2="1203"/><line x1="924" y1="1209" x2="924" y2="1203"/>
<line x1="660" y1="1180.5" x2="665" y2="1180.5"/><line x1="660" y1="1151.9" x2="665" y2="1151.9"/><line x1="660" y1="1123.4" x2="665" y2="1123.4"/><line x1="660" y1="1094.8" x2="665" y2="1094.8"/><line x1="660" y1="1066.3" x2="665" y2="1066.3"/><line x1="660" y1="1037.7" x2="665" y2="1037.7"/><line x1="660" y1="1009.2" x2="665" y2="1009.2"/>
</g>
<g font-size="25" text-anchor="end">
<text x="647" y="989.3">400</text><text x="647" y="1017.7">350</text><text x="647" y="1046.2">300</text><text x="647" y="1074.8">250</text><text x="647" y="1103.3">200</text><text x="647" y="1131.9">150</text><text x="647" y="1160.4">100</text><text x="647" y="1189">50</text><text x="647" y="1218.5">0</text>
</g>
<g font-size="25" text-anchor="middle">
<text x="685" y="1243">0</text><text x="725" y="1243">100</text><text x="765" y="1243">200</text><text x="804.5" y="1243">300</text><text x="844.5" y="1243">400</text><text x="884.5" y="1243">500</text><text x="924.5" y="1243">600</text>
</g>
<text x="804" y="1263" text-anchor="middle" font-size="27"><tspan font-style="italic">x</tspan>/mm</text>
<text transform="translate(598,1099) rotate(-90)" text-anchor="middle" font-size="27"><tspan font-style="italic">y</tspan>/mm</text>
<polyline fill="none" stroke="#e8a3cf" stroke-width="10" stroke-linejoin="round" stroke-linecap="round" points="668.7,998.7 675.8,1012.1 683.4,1027.1 690.9,1037.9 698.5,1048.7 706.1,1055.1 716.2,1061.6 728.9,1067 741.5,1070.2 756.7,1075.6 771.8,1082.1 787,1089.6 804.7,1098.2 829.9,1111.2 855.2,1124.1 880.5,1139.2 905.7,1156.4 926,1173.6 942.4,1189.8"/>
<polyline fill="none" stroke="#b01c3a" stroke-width="2.6" stroke-linejoin="round" points="668.7,998.7 675.8,1012.1 683.4,1027.1 690.9,1037.9 698.5,1048.7 706.1,1055.1 716.2,1061.6 728.9,1067 741.5,1070.2 756.7,1075.6 771.8,1082.1 787,1089.6 804.7,1098.2 829.9,1111.2 855.2,1124.1 880.5,1139.2 905.7,1156.4 926,1173.6 942.4,1189.8"/>
<!-- inset -->
<rect x="703" y="1109.4" width="91" height="73.9" fill="#fff" stroke="#aaa" stroke-width="1"/>
<path d="M703,1109.4 C715,1112 722,1117 729,1119.8 C745,1128 755,1141 767,1147.8 C778,1154 786,1157 794,1159.6 L794,1183 C786,1180 778,1178 767,1173.6 C750,1166 740,1153 729,1145.6 C720,1138 712,1130 703,1124 Z" fill="#e6a3d0"/>
<g fill="#b81e35">
<circle cx="706.1" cy="1116.5" r="1.7"/><circle cx="711" cy="1121.5" r="1.7"/><circle cx="716.2" cy="1126.2" r="1.7"/><circle cx="722.5" cy="1131" r="1.7"/><circle cx="728.9" cy="1135.9" r="1.7"/><circle cx="735" cy="1140.3" r="1.7"/><circle cx="741.5" cy="1144.6" r="1.7"/><circle cx="747.8" cy="1148.9" r="1.7"/><circle cx="754.1" cy="1153.2" r="1.7"/><circle cx="760.4" cy="1157" r="1.7"/><circle cx="766.8" cy="1160.7" r="1.7"/><circle cx="773" cy="1163.4" r="1.7"/><circle cx="779.4" cy="1166.1" r="1.7"/><circle cx="786" cy="1168.8" r="1.7"/><circle cx="792.5" cy="1171.3" r="1.7"/>
</g>
<g font-size="11">
<text x="700" y="1126" text-anchor="end">275</text><text x="700" y="1167" text-anchor="end">250</text>
<text x="723" y="1199" text-anchor="middle">50</text><text x="781" y="1199" text-anchor="middle">100</text>
<text x="746" y="1210" text-anchor="middle"><tspan font-style="italic">x</tspan>/mm</text>
<text transform="translate(675,1139) rotate(-90)" text-anchor="middle"><tspan font-style="italic">y</tspan>/mm</text>
</g>
<circle cx="799.6" cy="1008.8" r="4.5" fill="#b81e35"/><circle cx="798.5" cy="1007.5" r="1.3" fill="#f3b0b8"/>
<text x="812" y="1019" font-size="27">Data point</text>
<rect x="792" y="1028" width="16" height="11" fill="#e9a6d0"/>
<text x="812" y="1043" font-size="27">Error band</text>

<!-- ================= PANEL (e) ================= -->
<text x="980" y="965" font-size="25">(e)</text>
<g transform="translate(1203,1099)" fill="none">
<circle r="58" stroke="#d8d8d8" stroke-width="0.8" stroke-dasharray="1 3"/>
<circle r="92" stroke="#d8d8d8" stroke-width="0.8" stroke-dasharray="1 3"/>
<g stroke="#999" stroke-width="1.3">
<circle r="40.5"/><circle r="76"/>
<line y1="-25" y2="-107.5"/><line y1="-25" y2="-107.5" transform="rotate(30)"/><line y1="-25" y2="-107.5" transform="rotate(60)"/><line y1="-25" y2="-107.5" transform="rotate(90)"/><line y1="-25" y2="-107.5" transform="rotate(120)"/><line y1="-25" y2="-107.5" transform="rotate(150)"/><line y1="-25" y2="-107.5" transform="rotate(180)"/><line y1="-25" y2="-107.5" transform="rotate(210)"/><line y1="-25" y2="-107.5" transform="rotate(240)"/><line y1="-25" y2="-107.5" transform="rotate(270)"/><line y1="-25" y2="-107.5" transform="rotate(300)"/><line y1="-25" y2="-107.5" transform="rotate(330)"/>
</g>
<circle r="107.5" stroke="#111" stroke-width="2"/>
</g>
<g fill="none" stroke="#c4283c" stroke-width="3.2" stroke-dasharray="1.4 2.2" stroke-linecap="round">
<path d="M1124,1092 A79,71 0 0 1 1176,1025.3"/>
<path d="M1137.3,1086.9 A66,58 0 0 1 1203,1034"/>
<path d="M1153,1090.5 A50,44 0 0 1 1198.6,1048.2"/>
<path d="M1207,1052.2 A46,40 0 0 1 1249,1090.6"/>
<path d="M1209.9,1058.5 A40,34 0 0 1 1242.4,1086.1"/>
<path d="M1253.8,1034.5 A79,75 0 0 1 1281.7,1085.5"/>
<path d="M1203,1012 A84,80 0 0 1 1257,1030.7"/>
<path d="M1203,1034 A60,58 0 0 1 1245.4,1051"/>
<path d="M1187.4,1085 A18,14 0 0 1 1221,1092"/>
<path d="M1218,1067.8 A30,28 0 0 1 1233,1092"/>
<path d="M1131,1080 A74,66 0 0 1 1160,1040"/>
</g>
<g fill="none" stroke="#3c6fc4" stroke-width="3.2" stroke-dasharray="1.4 1.8" stroke-linecap="round">
<path d="M1138.5,1060.1 A73,68 0 0 1 1203,1024"/>
<path d="M1203,1030 A70,62 0 0 1 1272.7,1086.6"/>
<path d="M1143.1,1078 A62,54 0 0 1 1264.8,1087.3"/>
<path d="M1147.9,1083.7 A56,48 0 0 1 1251.5,1068"/>
<path d="M1161.7,1079 A44,38 0 0 1 1245.5,1082.2"/>
<path d="M1184.3,1005.9 A90,88 0 0 1 1226.3,1007"/>
<path d="M1210.5,1010.3 A86,82 0 0 1 1268.9,1039.3"/>
<path d="M1187.2,1089.9 A16,12 0 0 1 1218.8,1089.9"/>
<path d="M1203,1072 A24,20 0 0 1 1225.6,1085.2"/>
<path d="M1150,1070 A66,60 0 0 1 1203,1040"/>
</g>
<text x="1203" y="1097" text-anchor="middle" font-size="9">★</text>
<text x="1204" y="1114.5" text-anchor="middle" font-size="19">Start</text>
<g font-size="19" text-anchor="middle">
<text x="1204.3" y="982">0°</text><text x="1271.8" y="999.2">30°</text><text x="1315.3" y="1041.2">60°</text><text x="1332" y="1105.8">90°</text><text x="1321" y="1171.5">120°</text><text x="1279.2" y="1212.5">150°</text><text x="1204.3" y="1228.5">180°</text><text x="1129" y="1212.5">210°</text><text x="1091" y="1171.5">240°</text><text x="1078" y="1105.8">270°</text><text x="1093.2" y="1041.2">300°</text><text x="1138.3" y="998.1">330°</text>
</g>
<line x1="1055.7" y1="991" x2="1055.7" y2="1207" stroke="#111" stroke-width="2"/>
<g stroke="#111" stroke-width="1.5">
<line x1="1050" y1="992.7" x2="1055.7" y2="992.7"/><line x1="1050" y1="1026" x2="1055.7" y2="1026"/><line x1="1050" y1="1058.4" x2="1055.7" y2="1058.4"/><line x1="1050" y1="1089.5" x2="1055.7" y2="1089.5"/><line x1="1050" y1="1113.3" x2="1055.7" y2="1113.3"/><line x1="1050" y1="1144.5" x2="1055.7" y2="1144.5"/><line x1="1050" y1="1176.9" x2="1055.7" y2="1176.9"/><line x1="1050" y1="1207" x2="1055.7" y2="1207"/>
<line x1="1052.5" y1="1009.3" x2="1055.7" y2="1009.3"/><line x1="1052.5" y1="1042.2" x2="1055.7" y2="1042.2"/><line x1="1052.5" y1="1074" x2="1055.7" y2="1074"/><line x1="1052.5" y1="1128.9" x2="1055.7" y2="1128.9"/><line x1="1052.5" y1="1160.7" x2="1055.7" y2="1160.7"/><line x1="1052.5" y1="1193" x2="1055.7" y2="1193"/>
</g>
<g font-size="25" text-anchor="end">
<text x="1043" y="1001.2">60</text><text x="1043" y="1034.5">40</text><text x="1043" y="1066.9">20</text><text x="1043" y="1098">0</text><text x="1043" y="1121.8">0</text><text x="1043" y="1153">20</text><text x="1043" y="1185.4">40</text><text x="1043" y="1217.5">60</text>
</g>
<text transform="translate(1006,1101) rotate(-90)" text-anchor="middle" font-size="26">Time/s</text>
<circle cx="1297" cy="971" r="1.6" fill="#c4283c"/>
<text x="1305" y="980" font-size="27">Truth</text>
<circle cx="1297" cy="999" r="1.6" fill="#3c6fc4"/>
<text x="1305" y="1008" font-size="27">Prediction</text>
</svg>
</body></html>
